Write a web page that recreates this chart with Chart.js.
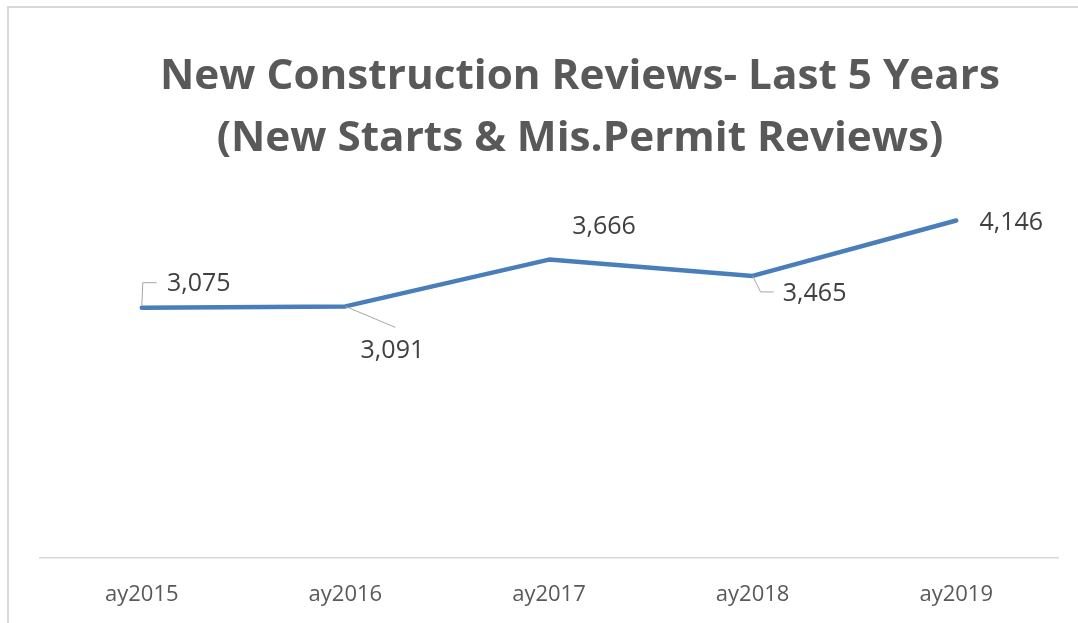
<!DOCTYPE html>
<html>
<head>
<meta charset="utf-8">
<title>New Construction Reviews</title>
<script src="https://cdn.jsdelivr.net/npm/chart.js@4/dist/chart.umd.min.js"></script>
<style>
    html, body { margin: 0; padding: 0; background: #fff; }
    #wrap { position: relative; width: 1078px; height: 623px; overflow: hidden; }
    #frame {
        position: absolute; left: 7px; top: 6px; width: 1100px; height: 650px;
        border-left: 2px solid #d9d9d9; border-top: 2px solid #d9d9d9;
    }
    canvas { position: absolute; left: 0; top: 0; }
</style>
</head>
<body>
<div id="wrap">
    <div id="frame"></div>
    <canvas id="reviews-chart"></canvas>
</div>
<script>
// Chart data
const years = ['ay2015', 'ay2016', 'ay2017', 'ay2018', 'ay2019'];
const reviews = [3075, 3091, 3666, 3465, 4146];
const titleLines = ['New Construction Reviews- Last 5 Years', '(New Starts & Mis.Permit Reviews)'];

// Label placement relative to each point (label centre, optional leader path)
const labelStyle = [
    { dx: 57, dy: -24, leader: [[0, -2], [1, -25], [15, -25]] },
    { dx: 47, dy: 44, leader: [[0, 0], [50, 21]] },
    { dx: 55, dy: -33, leader: null },
    { dx: 62, dy: 18, leader: [[0, 0], [8, 16], [21, 16]] },
    { dx: 55, dy: 2, leader: null }
];

const fmt = new Intl.NumberFormat('en-US');

// Title drawn a little right of centre, like the original
const titlePlugin = {
    id: 'condensedTitle',
    afterDraw(chart) {
        const ctx = chart.ctx;
        ctx.save();
        ctx.font = 'bold 42px "Open Sans"';
        ctx.fillStyle = '#595959';
        ctx.textAlign = 'center';
        ctx.textBaseline = 'alphabetic';
        const w = ctx.measureText(titleLines[0]).width;
        const sx = 840 / w; // squeeze to a Calibri-like width
        const cx = 580;
        const baselines = [89, 151];
        titleLines.forEach((line, i) => {
            ctx.save();
            ctx.translate(cx, baselines[i]);
            ctx.scale(sx, 1);
            ctx.fillText(line, 0, 0);
            ctx.restore();
        });
        ctx.restore();
    }
};

// Data labels with leader lines
const labelPlugin = {
    id: 'pointLabels',
    afterDatasetsDraw(chart) {
        const ctx = chart.ctx;
        const meta = chart.getDatasetMeta(0);
        ctx.save();
        meta.data.forEach((pt, i) => {
            const st = labelStyle[i];
            if (st.leader) {
                ctx.beginPath();
                ctx.strokeStyle = '#a6a6a6';
                ctx.lineWidth = 1;
                st.leader.forEach(([lx, ly], k) => {
                    if (k === 0) ctx.moveTo(pt.x + lx, pt.y + ly);
                    else ctx.lineTo(pt.x + lx, pt.y + ly);
                });
                ctx.stroke();
            }
            ctx.font = '25px "Open Sans"';
            ctx.fillStyle = '#404040';
            ctx.textAlign = 'center';
            ctx.textBaseline = 'middle';
            ctx.fillText(fmt.format(reviews[i]), pt.x + st.dx, pt.y + st.dy);
        });
        ctx.restore();
    }
};

const canvas = document.getElementById('reviews-chart');
new Chart(canvas.getContext('2d'), {
    type: 'line',
    data: {
        labels: years,
        datasets: [{
            label: 'Reviews',
            data: reviews,
            borderColor: '#4a7ebb',
            borderWidth: 4.5,
            borderCapStyle: 'round',
            borderJoinStyle: 'round',
            pointRadius: 0,
            tension: 0,
            fill: false
        }]
    },
    options: {
        responsive: true,
        maintainAspectRatio: false,
        animation: false,
        layout: {
            padding: { left: 40, right: 20, top: 151, bottom: 15 }
        },
        plugins: {
            legend: { display: false },
            title: { display: false },
            tooltip: { enabled: false }
        },
        scales: {
            y: {
                display: false,
                min: 0,
                max: 5000
            },
            x: {
                offset: true,
                grid: { display: false, drawTicks: false },
                border: { color: '#d9d9d9', width: 1.5 },
                ticks: {
                    color: '#595959',
                    padding: 24,
                    font: { family: 'Open Sans', size: 22 }
                },
                afterFit(scale) {
                    scale.height = 50; // fixed band for the category labels
                }
            }
        }
    },
    plugins: [titlePlugin, labelPlugin]
});
</script>
</body>
</html>
